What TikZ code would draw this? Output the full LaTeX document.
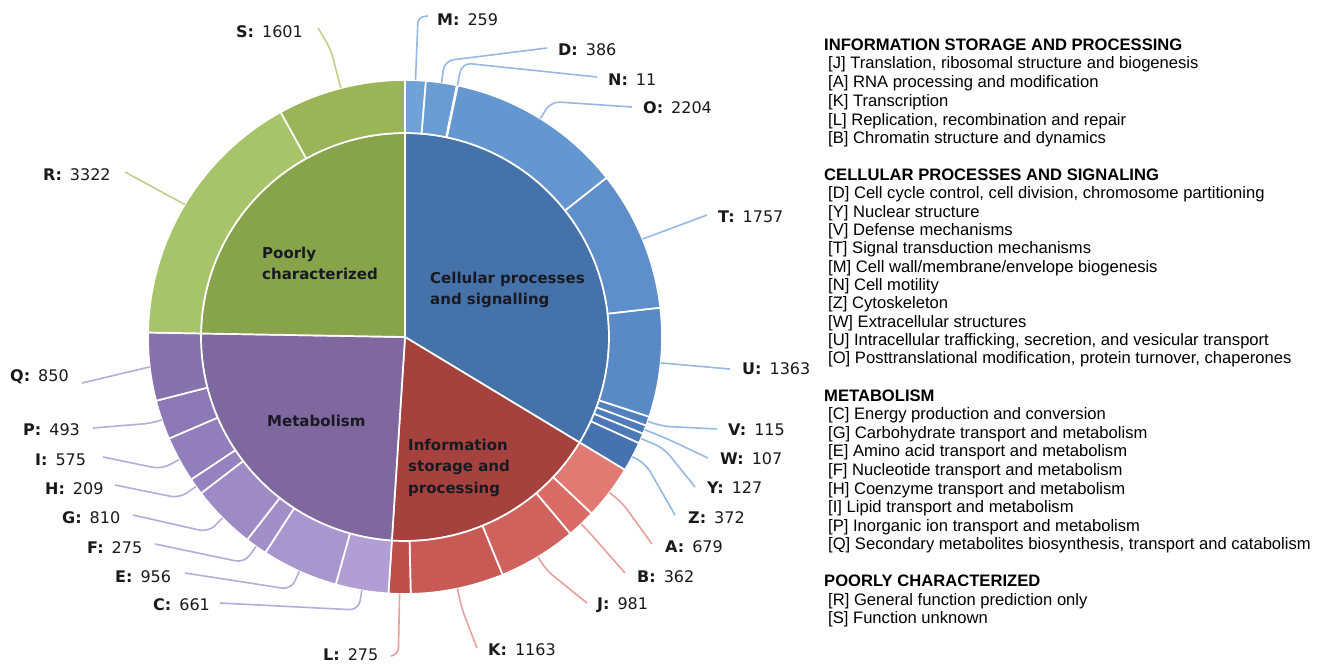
\documentclass[tikz,border=0pt]{standalone}
\usepackage{fontspec}
\setmainfont{Liberation Sans}
\newfontfamily\dv{DejaVu Sans}
\definecolor{bIn}{RGB}{69,114,168}
\definecolor{rIn}{RGB}{165,66,62}
\definecolor{pIn}{RGB}{126,104,158}
\definecolor{gIn}{RGB}{135,164,74}
\definecolor{bM}{RGB}{112,162,216}
\definecolor{bD}{RGB}{106,156,212}
\definecolor{bO}{RGB}{100,150,208}
\definecolor{bT}{RGB}{95,143,203}
\definecolor{bU}{RGB}{90,138,198}
\definecolor{bV}{RGB}{82,128,190}
\definecolor{bW}{RGB}{78,124,186}
\definecolor{bY}{RGB}{75,120,182}
\definecolor{bZ}{RGB}{70,115,175}
\definecolor{rA}{RGB}{226,122,116}
\definecolor{rB}{RGB}{218,108,102}
\definecolor{rJ}{RGB}{208,98,93}
\definecolor{rK}{RGB}{200,90,85}
\definecolor{rL}{RGB}{190,80,76}
\definecolor{pC}{RGB}{176,158,212}
\definecolor{pE}{RGB}{168,150,206}
\definecolor{pF}{RGB}{162,143,200}
\definecolor{pG}{RGB}{158,138,196}
\definecolor{pH}{RGB}{150,130,190}
\definecolor{pI}{RGB}{146,126,186}
\definecolor{pP}{RGB}{140,120,180}
\definecolor{pQ}{RGB}{134,114,172}
\definecolor{gR}{RGB}{168,196,106}
\definecolor{gS}{RGB}{154,180,88}
\definecolor{lnB}{RGB}{150,185,225}
\definecolor{lnR}{RGB}{232,160,156}
\definecolor{lnP}{RGB}{185,170,215}
\definecolor{lnG}{RGB}{190,208,140}
\definecolor{ctrtext}{RGB}{25,25,35}
\newcommand\ringSeg[3]{\path[fill=#3,seg] (#1:257) arc[start angle=#1, end angle=#2, radius=257] -- (#2:204) arc[start angle=#2, end angle=#1, radius=204] -- cycle;}
\newcommand\pieSeg[3]{\path[fill=#3,seg] (0,0) -- (#1:204) arc[start angle=#1, end angle=#2, radius=204] -- cycle;}
\begin{document}
\begin{tikzpicture}[x=1pt,y=1pt,
  seg/.style={draw=white, line width=1.7pt, line join=round},
  lab/.style={anchor=west, inner sep=0pt, font=\dv\fontsize{16}{18}\selectfont, text=black!90},
  ctr/.style={anchor=west, inner sep=0pt, align=left, font=\dv\bfseries\fontsize{15}{21.5}\selectfont, text=ctrtext},
  ld/.style={line width=1.6pt, rounded corners=9pt},
  lgh/.style={anchor=base west, inner sep=0pt, font=\bfseries\fontsize{16.6}{18}\selectfont},
  lgi/.style={anchor=base west, inner sep=0pt, font=\fontsize{16.6}{18}\selectfont}]
\useasboundingbox (0,0) rectangle (1324,-664);
\begin{scope}[shift={(405,-337)}]
  % inner pie
  \pieSeg{90}{-31.145}{bIn}
  \pieSeg{-31.145}{-93.697}{rIn}
  \pieSeg{-93.697}{-181.0}{pIn}
  \pieSeg{-181.0}{-270}{gIn}
  % outer ring: cellular
  \ringSeg{90}{85.318}{bM}
  \ringSeg{85.318}{78.339}{bD}
  \ringSeg{78.339}{78.140}{bD}
  \ringSeg{78.140}{38.295}{bO}
  \ringSeg{38.295}{6.531}{bT}
  \ringSeg{6.531}{-18.110}{bU}
  \ringSeg{-18.110}{-20.189}{bV}
  \ringSeg{-20.189}{-22.124}{bW}
  \ringSeg{-22.124}{-24.420}{bY}
  \ringSeg{-24.420}{-31.145}{bZ}
  % information
  \ringSeg{-31.145}{-43.420}{rA}
  \ringSeg{-43.420}{-49.965}{rB}
  \ringSeg{-49.965}{-67.700}{rJ}
  \ringSeg{-67.700}{-88.725}{rK}
  \ringSeg{-88.725}{-93.697}{rL}
  % metabolism
  \ringSeg{-93.697}{-105.647}{pC}
  \ringSeg{-105.647}{-122.930}{pE}
  \ringSeg{-122.930}{-127.902}{pF}
  \ringSeg{-127.902}{-142.545}{pG}
  \ringSeg{-142.545}{-146.324}{pH}
  \ringSeg{-146.324}{-156.719}{pI}
  \ringSeg{-156.719}{-165.632}{pP}
  \ringSeg{-165.632}{-181.0}{pQ}
  % poorly characterized
  \ringSeg{-181.0}{-241.055}{gR}
  \ringSeg{-241.055}{-270}{gS}
  % leader start points
  \coordinate (sM) at (87.66:257);
  \coordinate (sD) at (81.83:257);
  \coordinate (sN) at (78.24:257);
  \coordinate (sO) at (58.22:257);
  \coordinate (sT) at (22.41:257);
  \coordinate (sU) at (-5.79:257);
  \coordinate (sV) at (-19.15:257);
  \coordinate (sW) at (-21.16:257);
  \coordinate (sY) at (-23.27:257);
  \coordinate (sZ) at (-27.78:257);
  \coordinate (sA) at (-37.28:257);
  \coordinate (sB) at (-46.69:257);
  \coordinate (sJ) at (-58.83:257);
  \coordinate (sK) at (-78.21:257);
  \coordinate (sL) at (-91.21:257);
  \coordinate (sC) at (-99.67:257);
  \coordinate (sE) at (-114.29:257);
  \coordinate (sF) at (-125.42:257);
  \coordinate (sG) at (-135.22:257);
  \coordinate (sH) at (-144.43:257);
  \coordinate (sI) at (-151.52:257);
  \coordinate (sP) at (-161.18:257);
  \coordinate (sQ) at (-173.32:257);
  \coordinate (sR) at (148.97:257);
  \coordinate (sS) at (104.47:257);
\end{scope}
% centre labels
\node[ctr] (cPoor) at (262,-263.5) {Poorly\\characterized};
\node[ctr] (cCell) at (430,-290) {Cellular processes\\and signalling};
\node[ctr] (cMeta) at (267,-421) {Metabolism};
\node[ctr] (cInfo) at (408,-467.5) {Information\\storage and\\processing};
% outer labels
\node[lab] (tM) at (437,-20) {\textbf{M:}\hspace{8pt}259};
\node[lab] (tD) at (558,-50) {\textbf{D:}\hspace{8pt}386};
\node[lab] (tN) at (608,-80) {\textbf{N:}\hspace{8pt}11};
\node[lab] (tO) at (643,-108) {\textbf{O:}\hspace{8pt}2204};
\node[lab] (tT) at (718,-217) {\textbf{T:}\hspace{8pt}1757};
\node[lab] (tU) at (742,-369) {\textbf{U:}\hspace{8pt}1363};
\node[lab] (tV) at (728,-430) {\textbf{V:}\hspace{8pt}115};
\node[lab] (tW) at (720,-459) {\textbf{W:}\hspace{8pt}107};
\node[lab] (tY) at (707,-488) {\textbf{Y:}\hspace{8pt}127};
\node[lab] (tZ) at (688,-518) {\textbf{Z:}\hspace{8pt}372};
\node[lab] (tA) at (665,-547) {\textbf{A:}\hspace{8pt}679};
\node[lab] (tB) at (637,-577) {\textbf{B:}\hspace{8pt}362};
\node[lab] (tJ) at (597,-605) {\textbf{J:}\hspace{8pt}981};
\node[lab] (tK) at (488,-650) {\textbf{K:}\hspace{8pt}1163};
\node[lab] (tL) at (323,-655) {\textbf{L:}\hspace{8pt}275};
\node[lab] (tC) at (153,-605) {\textbf{C:}\hspace{8pt}661};
\node[lab] (tE) at (115,-577) {\textbf{E:}\hspace{8pt}956};
\node[lab] (tF) at (87,-548) {\textbf{F:}\hspace{8pt}275};
\node[lab] (tG) at (62,-518) {\textbf{G:}\hspace{8pt}810};
\node[lab] (tH) at (45,-489) {\textbf{H:}\hspace{8pt}209};
\node[lab] (tI) at (35,-460) {\textbf{I:}\hspace{8pt}575};
\node[lab] (tP) at (23,-430) {\textbf{P:}\hspace{8pt}493};
\node[lab] (tQ) at (10,-377) {\textbf{Q:}\hspace{8pt}850};
\node[lab] (tR) at (43,-175) {\textbf{R:}\hspace{8pt}3322};
\node[lab] (tS) at (236,-32) {\textbf{S:}\hspace{8pt}1601};
% leader end points
\coordinate (eM) at (428,-16);
\coordinate (eD) at (547,-48);
\coordinate (eN) at (597,-77);
\coordinate (eO) at (632,-107);
\coordinate (eT) at (707,-215);
\coordinate (eU) at (730,-369);
\coordinate (eV) at (717,-429);
\coordinate (eW) at (708,-458);
\coordinate (eY) at (695,-487);
\coordinate (eZ) at (675,-515);
\coordinate (eA) at (652,-544);
\coordinate (eB) at (625,-573);
\coordinate (eJ) at (587,-603);
\coordinate (eK) at (477,-648);
\coordinate (eL) at (391,-656);
\coordinate (eC) at (220,-603);
\coordinate (eE) at (185,-573);
\coordinate (eF) at (155,-544);
\coordinate (eG) at (133,-515);
\coordinate (eH) at (115,-485);
\coordinate (eI) at (103,-457);
\coordinate (eP) at (93,-428);
\coordinate (eQ) at (82,-383);
\coordinate (eR) at (125,-172);
\coordinate (eS) at (318,-28);
% leaders
\draw[ld, lnB, rounded corners=6pt] (sM) -- ++(87.66:63) -- (eM);
\draw[ld, lnB] (sD) -- ++(81.83:22) -- (eD);
\draw[ld, lnB] (sN) -- ++(78.24:23) -- (eN);
\draw[ld, lnB] (sO) -- ++(58.22:20) -- (eO);
\draw[ld, lnB] (sT) -- (eT);
\draw[ld, lnB] (sU) -- (eU);
\draw[ld, lnB] (sV) -- ++(-19.15:15) -- (eV);
\draw[ld, lnB] (sW) -- ++(-21.16:20) -- (eW);
\draw[ld, lnB] (sY) -- ++(-23.27:25) -- (eY);
\draw[ld, lnB] (sZ) -- ++(-27.78:15) -- (eZ);
\draw[ld, lnR] (sA) -- ++(-37.28:15) -- (eA);
\draw[ld, lnR] (sB) -- ++(-46.69:15) -- (eB);
\draw[ld, lnR] (sJ) -- ++(-58.83:15) -- (eJ);
\draw[ld, lnR] (sK) -- ++(-78.21:20) -- (eK);
\draw[ld, lnR, rounded corners=6pt] (sL) -- ++(-91.21:60) -- (eL);
\draw[ld, lnP] (sC) -- ++(-99.67:20) -- (eC);
\draw[ld, lnP] (sE) -- ++(-114.29:20) -- (eE);
\draw[ld, lnP] (sF) -- ++(-125.42:20) -- (eF);
\draw[ld, lnP] (sG) -- ++(-135.22:20) -- (eG);
\draw[ld, lnP] (sH) -- ++(-144.43:20) -- (eH);
\draw[ld, lnP] (sI) -- ++(-151.52:20) -- (eI);
\draw[ld, lnP] (sP) -- ++(-161.18:10) -- (eP);
\draw[ld, lnP] (sQ) -- (eQ);
\draw[ld, lnG] (sR) -- (eR);
\draw[ld, lnG] (sS) -- ++(104.47:40) -- (eS);
% legend
\node[lgh] (h1) at (824,-50.7) {INFORMATION STORAGE AND PROCESSING};
\foreach \yy/\tt [count=\i] in {63/{[J] Translation, ribosomal structure and biogenesis},
  82/{[A] RNA processing and modification},
  101/{[K] Transcription},
  120/{[L] Replication, recombination and repair},
  138/{[B] Chromatin structure and dynamics}}
  \node[lgi] (ia\i) at (828,-\yy-5.7) {\tt};
\node[lgh] (h2) at (824,-180.7) {CELLULAR PROCESSES AND SIGNALING};
\foreach \yy/\tt [count=\i] in {193/{[D] Cell cycle control, cell division, chromosome partitioning},
  212/{[Y] Nuclear structure},
  230/{[V] Defense mechanisms},
  248/{[T] Signal transduction mechanisms},
  267/{[M] Cell wall/membrane/envelope biogenesis},
  285/{[N] Cell motility},
  303/{[Z] Cytoskeleton},
  322/{[W] Extracellular structures},
  340/{[U] Intracellular trafficking, secretion, and vesicular transport},
  358/{[O] Posttranslational modification, protein turnover, chaperones}}
  \node[lgi] (ib\i) at (828,-\yy-5.7) {\tt};
\node[lgh] (h3) at (824,-401.7) {METABOLISM};
\foreach \yy/\tt [count=\i] in {414/{[C] Energy production and conversion},
  433/{[G] Carbohydrate transport and metabolism},
  451/{[E] Amino acid transport and metabolism},
  470/{[F] Nucleotide transport and metabolism},
  489/{[H] Coenzyme transport and metabolism},
  507/{[I] Lipid transport and metabolism},
  526/{[P] Inorganic ion transport and metabolism},
  544/{[Q] Secondary metabolites biosynthesis, transport and catabolism}}
  \node[lgi] (ic\i) at (828,-\yy-5.7) {\tt};
\node[lgh] (h4) at (824,-586.7) {POORLY CHARACTERIZED};
\foreach \yy/\tt [count=\i] in {600/{[R] General function prediction only},
  618/{[S] Function unknown}}
  \node[lgi] (id\i) at (828,-\yy-5.7) {\tt};
\end{tikzpicture}
\end{document}
